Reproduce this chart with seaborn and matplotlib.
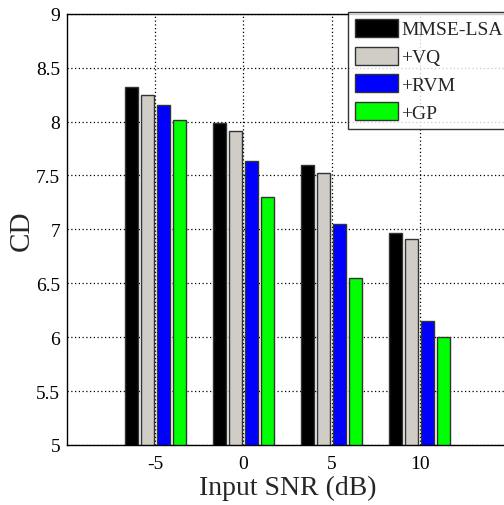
import matplotlib
matplotlib.use("Agg")
import matplotlib.pyplot as plt
import seaborn as sns
import pandas as pd
from matplotlib.patches import Patch

snr_labels = ["-5", "0", "5", "10"]
methods = ["MMSE-LSA", "+VQ", "+RVM", "+GP"]
mmse_lsa = [8.32, 7.99, 7.60, 6.97]
vq = [8.25, 7.91, 7.52, 6.91]
rvm = [8.15, 7.63, 7.05, 6.15]
gp = [8.01, 7.30, 6.55, 6.00]
colors = ["#000000", "#D0CCC6", "#0000FF", "#00FF00"]

rows = []
for m, vals in zip(methods, [mmse_lsa, vq, rvm, gp]):
    for s, v in zip(snr_labels, vals):
        rows.append({"snr": s, "method": m, "cd": v})
df = pd.DataFrame(rows)

sns.set_style("white")
plt.rcParams["font.family"] = ["Liberation Serif", "DejaVu Serif"]

fig = plt.figure(figsize=(5.04, 5.06), dpi=100)
ax = fig.add_axes([67/504, 1-446/506, (508-67)/504, (446-14.7)/506])

sns.barplot(data=df, x="snr", y="cd", hue="method", order=snr_labels,
            hue_order=methods, palette=colors, width=0.727, gap=0.19,
            edgecolor="#333333", linewidth=1.0, ax=ax, legend=False,
            errorbar=None, saturation=1)

ax.set_ylim(5, 9)
ax.set_xlim(-1, 4)
ax.set_yticks([5, 5.5, 6, 6.5, 7, 7.5, 8, 8.5, 9])
ax.set_yticklabels(["5", "5.5", "6", "6.5", "7", "7.5", "8", "8.5", "9"])
ax.tick_params(axis="both", direction="in", length=4, width=0.8, colors="black")
ax.tick_params(axis="y", labelsize=14, pad=5)
ax.tick_params(axis="x", labelsize=14, pad=7)
ax.grid(True, linestyle=(0, (1, 2)), color="black", linewidth=0.9)
ax.set_axisbelow(True)
for sp in ax.spines.values():
    sp.set_color("black")
    sp.set_linewidth(1.0)

ax.set_xlabel("Input SNR (dB)", fontsize=20, labelpad=2)
ax.set_ylabel("CD", fontsize=21, labelpad=1)

handles = [Patch(facecolor=c, edgecolor="#333333", linewidth=1.0) for c in colors]
leg = fig.legend(handles, methods, loc="upper left",
                 bbox_to_anchor=(348/504, 1-13/506), bbox_transform=fig.transFigure,
                 fontsize=14, handlelength=2.2, handleheight=1.05,
                 labelspacing=0.42, handletextpad=0.2, borderpad=0.35,
                 borderaxespad=0, frameon=True, fancybox=False)
leg.get_frame().set_edgecolor("black")
leg.get_frame().set_linewidth(1.0)

fig.savefig("out.png", dpi=100, facecolor="white")
